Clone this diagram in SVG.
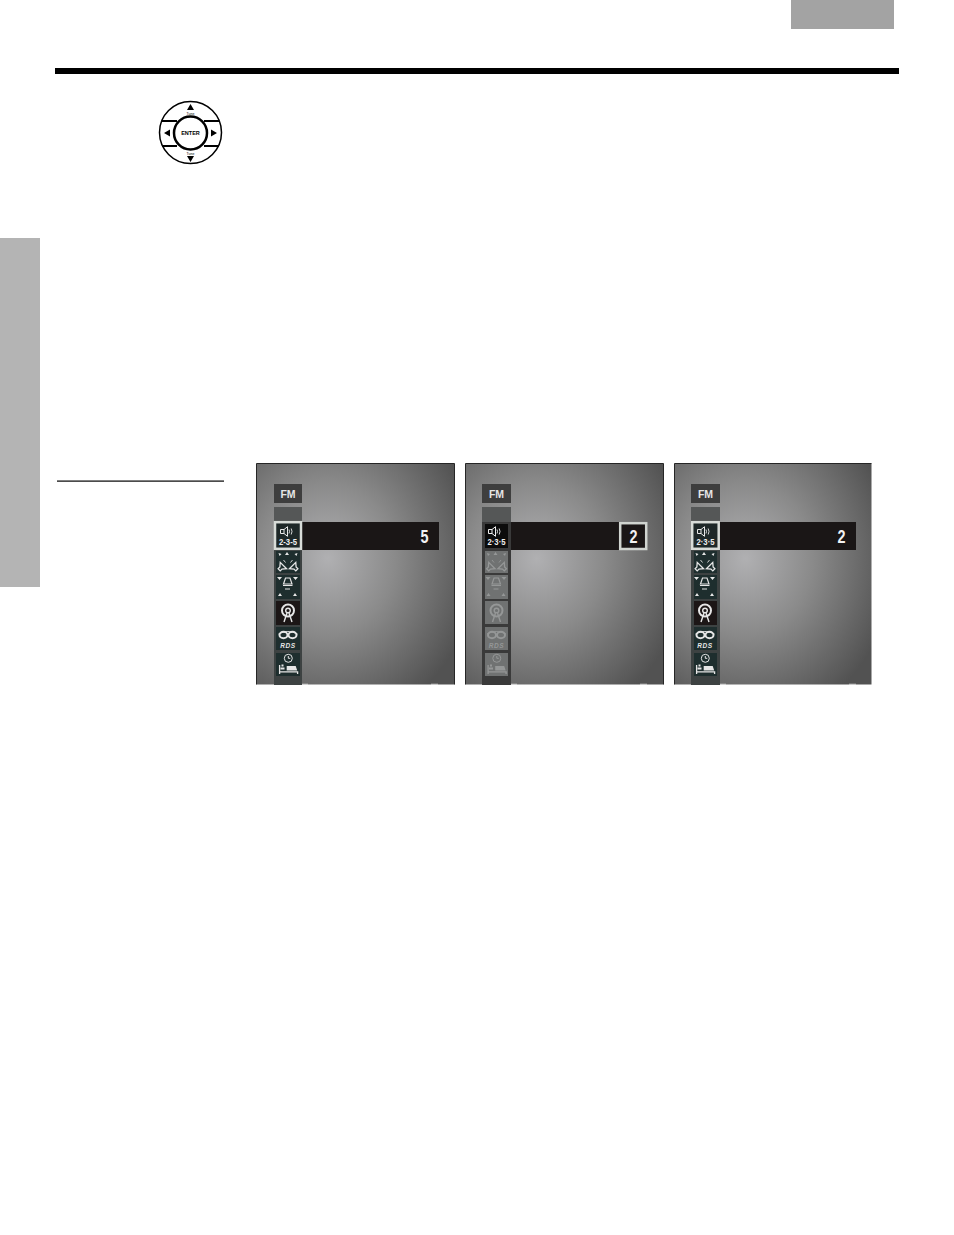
<svg xmlns="http://www.w3.org/2000/svg" width="954" height="1235" viewBox="0 0 954 1235">
<style>
text{font-family:"Liberation Sans",Arial,sans-serif}
.b{font-weight:bold}
.fm{font-size:10.5px;font-weight:bold;fill:#e6e6e6;text-anchor:middle}
.val{font-size:18px;font-weight:bold;fill:#f2f2f2;text-anchor:middle}
.tiny{font-size:9.500px;font-weight:bold;text-anchor:middle;fill:#f0f0f0}
.rds{font-size:6.500px;font-weight:bold;font-style:italic;text-anchor:middle;letter-spacing:.6px}
.edge{fill:none;stroke:#262626;stroke-width:1}
.glyph{fill:currentColor;stroke:none}
.line{fill:none;stroke:currentColor}
.bar{fill:#1a1616}
.fmbox{fill:#3e3e3e}
.top{fill:#555757}
.speck{fill:#fff;opacity:.4}
</style>
<defs>
<radialGradient id="bg" gradientUnits="objectBoundingBox" cx=".36" cy=".43" r=".76">
<stop offset="0" stop-color="#b0b0b2"/><stop offset=".45" stop-color="#8a8a8a"/><stop offset="1" stop-color="#525252"/>
</radialGradient>
<g id="spk"><path class="line" stroke-width="1" d="M6.500 4.500h3.500l3.500-2.800v9.600l-3.500-2.800h-3.500zM10 4.500v4"/><path class="line" stroke-width=".9" d="M15 4.500q1 2 0 4M17.200 3.500q1.600 3 0 6"/></g>
<path id="horn" class="line" stroke-width="1.300" d="M-4-1.500h2.500l3.500-3v9l-3.500-3h-2.500z"/>
<g id="ic2"><path class="glyph" d="M12-1l2 3h-4zM3.500 0l3 1-2 2zM22.500 0l-3 1 2 2z"/>
<use href="#horn" transform="translate(7 14) rotate(-45)"/><use href="#horn" transform="translate(19 14) rotate(-135)"/>
<path class="line" stroke-width=".9" d="M8.500 7l2 2.500M17.500 7l-2 2.500"/></g>
<g id="ic3"><path class="glyph" d="M2 1h5l-2.500 3zM18 1h5l-2.500 3zM3 20l2-3 2 3zM18 20l2-3 2 3z"/><path class="line" stroke-width="1.200" d="M10.500 2h4.500l2 6h-8.500zM8 9.500h9.500M10 13h5"/></g>
<g id="ic4"><circle class="line" stroke-width="2" cx="13" cy="7.500" r="6"/><circle class="line" stroke-width="1.400" cx="13" cy="7.500" r="2.300"/><path class="line" stroke-width="1.400" d="M12 10l-3 9M14 10l3 9"/></g>
<g id="ic5"><ellipse class="line" stroke-width="2" cx="8.500" cy="7" rx="4" ry="3.200"/><ellipse class="line" stroke-width="2" cx="17.500" cy="7" rx="4" ry="3.200"/><path class="line" stroke-width="1" d="M3.500 6q9-5 19 0"/></g>
<g id="ic6"><circle class="line" stroke-width="1" cx="13.300" cy="4.300" r="4"/><path class="line" stroke-width="1" d="M13.300 2v2.300h2"/><path class="line" stroke-width="1.300" d="M4.600 11v9M4.600 17.800h18v2.200"/><path class="glyph" d="M11.700 12h9l1.500 4.500h-10.500zM5.500 13.500h4v2h-4zM6.500 10.500h2v2h-2z"/></g>
<g id="icons">
<use href="#ic2" y="553"/><use href="#ic3" y="576"/>
<use href="#ic4" y="603"/><use href="#ic5" y="628"/>
<text class="rds" x="13" y="647.700" fill="currentColor">RDS</text>
<use href="#ic6" y="654"/>
</g>
</defs>

<rect id="page-tab" x="791" y="0" width="103" height="29" fill="#a3a3a3"/>
<rect id="top-rule" x="55" y="68" width="844" height="6" fill="#000"/>
<rect id="side-tab" x="0" y="238" width="40" height="349" fill="#b4b4b4"/>
<rect id="side-rule" x="57" y="480.500" width="167" height="1.200" fill="#000"/>

<g id="dial" fill="none" stroke="#000">
<circle cx="190.500" cy="132.500" r="31" stroke-width="1.500"/>
<path d="M162 121h15M204 121h15M162 146h15M204 146h15" stroke-width="2.200"/>
<circle cx="190.500" cy="133" r="16.500" stroke-width="2.500" fill="#fff"/>
<path d="M190.500 104l3.500 6h-7zM190.500 162l-3.500-6h7zM164 133l6-3.500v7zM217 133l-6-3.500v7z" fill="#000" stroke="none"/>
<text x="190.500" y="135" font-size="5.500px" class="b" text-anchor="middle" fill="#000" stroke="none">ENTER</text>
<text x="190.500" y="114.500" font-size="3.500px" text-anchor="middle" fill="#000" stroke="none">Tune</text>
<text x="190.500" y="154.500" font-size="3.500px" text-anchor="middle" fill="#000" stroke="none">Tune</text>
</g>

<g id="screen-1">
<rect x="256.500" y="463.500" width="198" height="221" fill="url(#bg)"/>
<path class="edge" d="M256.500 684.500V463.500H454.500V684.500"/>
<rect class="fmbox" x="274" y="484" width="28" height="19"/>
<text class="fm" x="288" y="497.500">FM</text>
<rect class="top" x="274" y="507" width="28" height="15"/>
<rect x="274" y="522" width="28" height="163" fill="#3d4242"/>
<rect class="bar" x="302" y="522" width="137" height="28"/>
<text class="val" x="424.500" y="542.500" textLength="8" lengthAdjust="spacingAndGlyphs">5</text>
<rect x="275" y="522.200" width="26" height="26.600" fill="#1e2828" stroke="#d8dcd8" stroke-width="2.500"/>
<use href="#spk" x="274" y="525" color="#e8e8e8"/>
<text class="tiny" x="288" y="545" textLength="18" lengthAdjust="spacingAndGlyphs">2-3-5</text>
<g fill="#1e2e2e"><rect x="276" y="551" width="24" height="22"/><rect x="276" y="575" width="24" height="24"/><rect x="276" y="627" width="24" height="23"/><rect x="276" y="653" width="24" height="23"/></g>
<rect x="276" y="601" width="24" height="24" fill="#1c1616"/>
<use href="#icons" x="275" color="#e6e6e6"/>
<rect class="speck" x="302" y="683.500" width="6" height="1.500"/><rect class="speck" x="431" y="683.500" width="7" height="1.500"/>
</g>

<g id="screen-2">
<rect x="465.500" y="463.500" width="198" height="221" fill="url(#bg)"/>
<path class="edge" d="M465.500 684.500V463.500H663.500V684.500"/>
<rect class="fmbox" x="482" y="484" width="29" height="19"/>
<text class="fm" x="496.500" y="497.500">FM</text>
<rect class="top" x="482" y="507" width="29" height="15"/>
<rect x="482" y="522" width="29" height="163" fill="#3a3a3a"/>
<rect class="bar" x="511" y="522" width="109" height="28"/>
<rect x="620.200" y="523.200" width="26" height="25.800" fill="#1a1616" stroke="#d0d4d0" stroke-width="2.500"/>
<text class="val" x="633.500" y="542.500" textLength="8" lengthAdjust="spacingAndGlyphs">2</text>
<rect x="485" y="524" width="23" height="24" fill="#0c0c0c"/>
<use href="#spk" x="482" y="525" color="#f0f0f0"/>
<text class="tiny" x="496.500" y="545" textLength="18" lengthAdjust="spacingAndGlyphs">2·3·5</text>
<g fill="#707272"><rect x="485" y="551" width="23" height="22"/><rect x="485" y="575" width="23" height="24"/><rect x="485" y="601" width="23" height="23"/><rect x="485" y="627" width="23" height="23"/><rect x="485" y="653" width="23" height="23"/></g>
<use href="#icons" x="483.500" color="#959797"/>
<rect class="speck" x="511" y="683.500" width="6" height="1.500"/><rect class="speck" x="640" y="683.500" width="7" height="1.500"/>
</g>

<g id="screen-3">
<rect x="674.500" y="463.500" width="197" height="221" fill="url(#bg)"/>
<path class="edge" d="M674.500 684.500V463.500H871.500"/>
<rect class="fmbox" x="691" y="484" width="29" height="19"/>
<text class="fm" x="705.500" y="497.500">FM</text>
<rect class="top" x="691" y="507" width="29" height="15"/>
<rect x="691" y="522" width="29" height="163" fill="#3d4242"/>
<rect class="bar" x="720" y="522" width="136" height="28"/>
<text class="val" x="841.500" y="542.500" textLength="8" lengthAdjust="spacingAndGlyphs">2</text>
<rect x="692.200" y="522.200" width="26.500" height="26.600" fill="#1e2828" stroke="#d8dcd8" stroke-width="2.500"/>
<use href="#spk" x="691" y="525" color="#e8e8e8"/>
<text class="tiny" x="705.500" y="545" textLength="18" lengthAdjust="spacingAndGlyphs">2·3·5</text>
<g fill="#1e2e2e"><rect x="694" y="551" width="23" height="22"/><rect x="694" y="575" width="23" height="24"/><rect x="694" y="627" width="23" height="23"/><rect x="694" y="653" width="23" height="23"/></g>
<rect x="694" y="601" width="23" height="24" fill="#1c1616"/>
<use href="#icons" x="692" color="#e6e6e6"/>
<rect class="speck" x="720" y="683.500" width="6" height="1.500"/><rect class="speck" x="849" y="683.500" width="7" height="1.500"/>
</g>
</svg>
